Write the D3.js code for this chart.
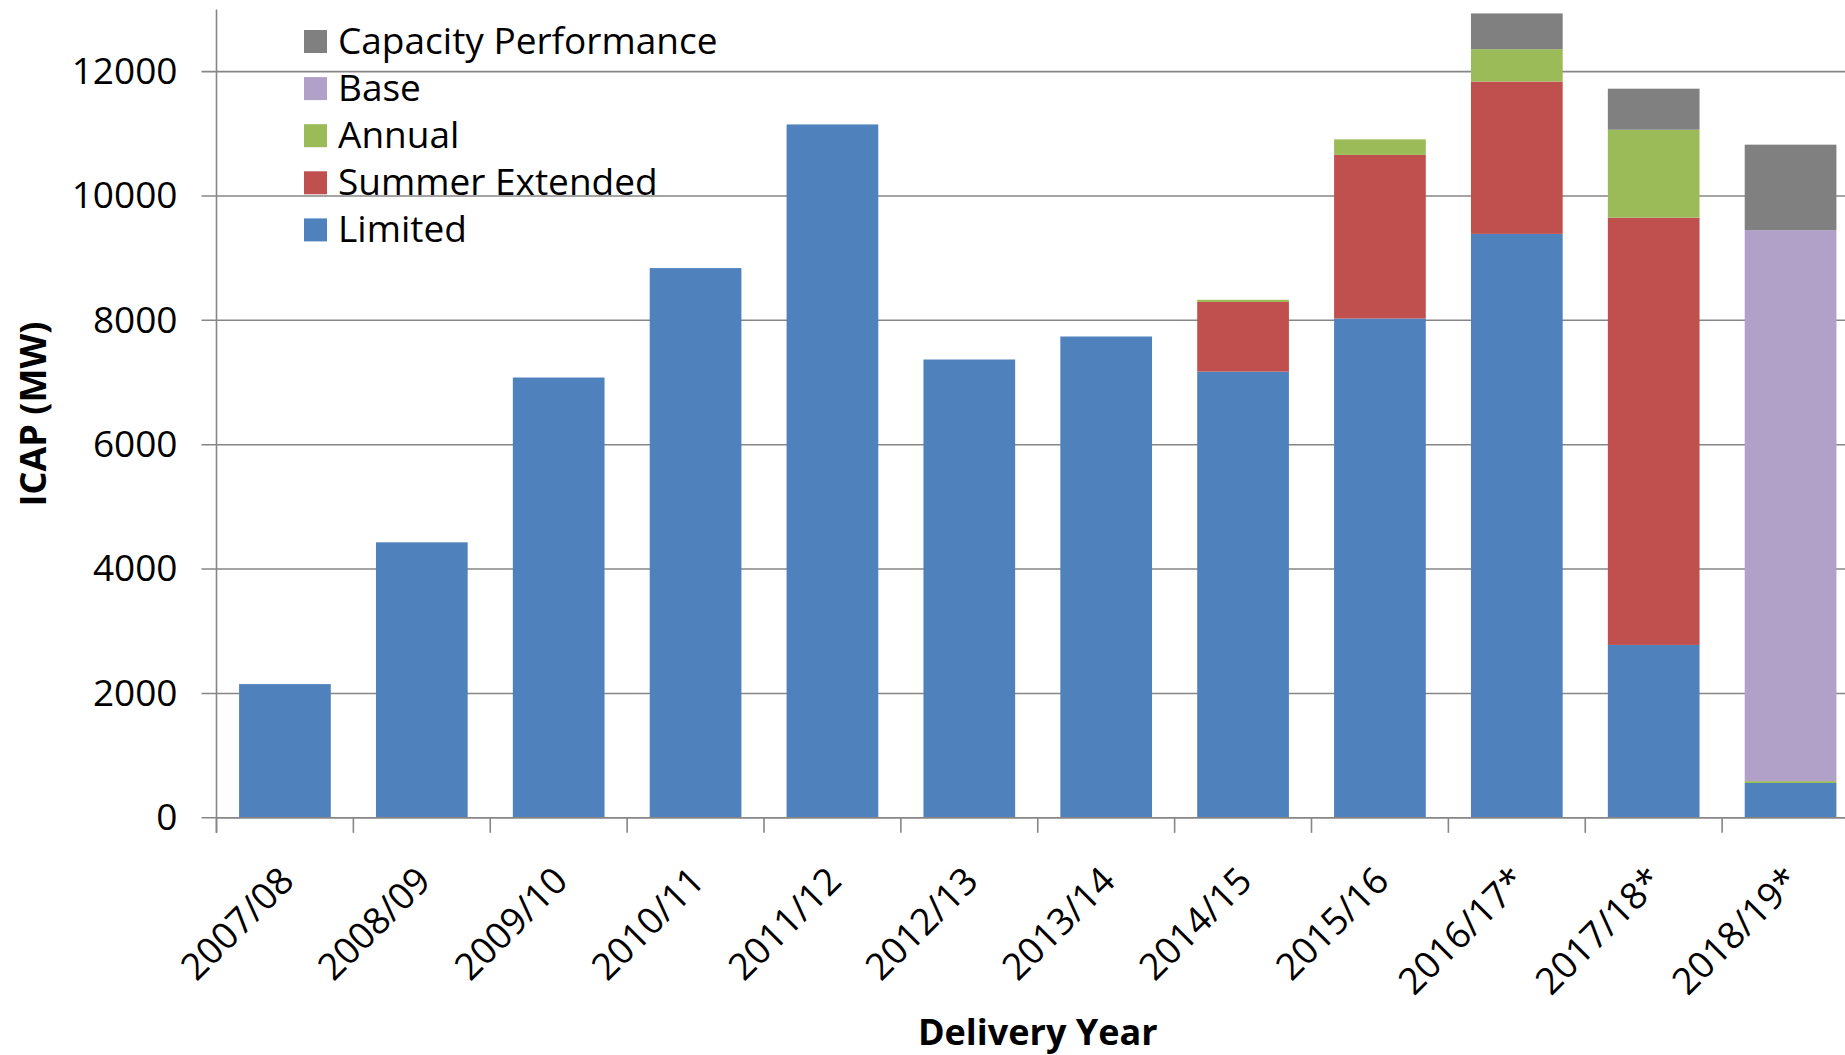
<!DOCTYPE html>
<html>
<head>
<meta charset="utf-8">
<script src="https://cdn.jsdelivr.net/npm/d3@7"></script>
<style>
  body { margin: 0; background: #fff; }
  svg { display: block; font-family: "Open Sans", sans-serif; }
</style>
</head>
<body>
<svg id="chart" width="1845" height="1055"></svg>
<script>
// delivery years on the x axis
const years = ['2007/08', '2008/09', '2009/10', '2010/11', '2011/12', '2012/13',
    '2013/14', '2014/15', '2015/16', '2016/17*', '2017/18*', '2018/19*'];

// MW per product type
const limited = [2150, 4430, 7080, 8840, 11150, 7370, 7740, 7175, 8030, 9390, 2780, 560];
const summerExtended = [0, 0, 0, 0, 0, 0, 0, 1120, 2630, 2450, 6870, 0];
const annual = [0, 0, 0, 0, 0, 0, 0, 35, 250, 520, 1415, 30];
const base = [0, 0, 0, 0, 0, 0, 0, 0, 0, 0, 0, 8860];
const capacityPerformance = [0, 0, 0, 0, 0, 0, 0, 0, 0, 575, 660, 1375];

const yTicks = [0, 2000, 4000, 6000, 8000, 10000, 12000];

// stacking order is bottom to top
const keys = ['Limited', 'Summer Extended', 'Annual', 'Base', 'Capacity Performance'];
const colors = {
    'Limited': '#4f81bd',
    'Summer Extended': '#c0504d',
    'Annual': '#9bbb59',
    'Base': '#b1a0c7',
    'Capacity Performance': '#808080'
};

const rows = years.map((year, i) => ({
    year,
    'Limited': limited[i],
    'Summer Extended': summerExtended[i],
    'Annual': annual[i],
    'Base': base[i],
    'Capacity Performance': capacityPerformance[i]
}));

const svg = d3.select('#chart');
const plotLeft = 216.5, plotRight = 1859, plotTop = 9.4, plotBottom = 817.8;
const gridColor = '#868686';

const x = d3.scaleBand()
    .domain(years)
    .range([plotLeft, plotRight])
    .paddingInner(0.33)
    .paddingOuter(0.165);

const y = d3.scaleLinear()
    .domain([0, 13000])
    .range([plotBottom, plotTop]);

// horizontal gridlines, with the small tick stub left of the axis
svg.append('g')
    .selectAll('line')
    .data(yTicks)
    .join('line')
    .attr('x1', plotLeft - 15)
    .attr('x2', 1845)
    .attr('y1', d => y(d))
    .attr('y2', d => y(d))
    .attr('stroke', gridColor)
    .attr('stroke-width', 1.6);

const stacked = d3.stack().keys(keys)(rows);

svg.append('g')
    .selectAll('g')
    .data(stacked)
    .join('g')
    .attr('fill', d => colors[d.key])
    .selectAll('rect')
    .data(d => d.filter(s => s[1] - s[0] > 0))
    .join('rect')
    .attr('x', d => x(d.data.year))
    .attr('width', x.bandwidth())
    .attr('y', d => y(d[1]))
    .attr('height', d => y(d[0]) - y(d[1]));

// y axis
const yAxis = svg.append('g')
    .attr('transform', `translate(${plotLeft},0)`)
    .call(d3.axisLeft(y).tickValues(yTicks).tickFormat(d3.format('d')).tickSize(15).tickPadding(24));
yAxis.select('.domain').remove();
yAxis.selectAll('.tick line').remove();
yAxis.selectAll('text')
    .attr('font-family', '"Open Sans", sans-serif')
    .attr('font-size', 37)
    .attr('fill', '#000');

svg.append('line')
    .attr('x1', plotLeft).attr('x2', plotLeft)
    .attr('y1', plotTop).attr('y2', plotBottom + 15)
    .attr('stroke', gridColor)
    .attr('stroke-width', 1.6);

// x axis line and category boundary ticks
svg.append('line')
    .attr('x1', plotLeft).attr('x2', 1845)
    .attr('y1', plotBottom).attr('y2', plotBottom)
    .attr('stroke', gridColor)
    .attr('stroke-width', 1.6);

const boundaryOffset = (x.step() - x.bandwidth()) / 2;
svg.append('g')
    .selectAll('line')
    .data(years)
    .join('line')
    .attr('x1', d => x(d) - boundaryOffset)
    .attr('x2', d => x(d) - boundaryOffset)
    .attr('y1', plotBottom)
    .attr('y2', plotBottom + 15)
    .attr('stroke', gridColor)
    .attr('stroke-width', 1.6);

// rotated category labels
svg.append('g')
    .selectAll('text')
    .data(years)
    .join('text')
    .attr('transform', d => `translate(${x(d) + x.bandwidth() / 2 + 11},883) rotate(-45)`)
    .attr('text-anchor', 'end')
    .attr('font-size', 37)
    .text(d => d);

// axis titles
svg.append('text')
    .attr('x', (plotLeft + plotRight) / 2)
    .attr('y', 1045)
    .attr('text-anchor', 'middle')
    .attr('font-size', 36)
    .attr('font-weight', 'bold')
    .text('Delivery Year');

svg.append('text')
    .attr('transform', 'translate(46,414) rotate(-90)')
    .attr('text-anchor', 'middle')
    .attr('font-size', 36)
    .attr('font-weight', 'bold')
    .text('ICAP (MW)');

// legend, listed top to bottom in reverse stack order
const legendKeys = keys.slice().reverse();
const legend = svg.append('g')
    .selectAll('g')
    .data(legendKeys)
    .join('g')
    .attr('transform', (d, i) => `translate(304,${30 + i * 47.1})`);

legend.append('rect')
    .attr('width', 23)
    .attr('height', 23)
    .attr('fill', d => colors[d]);

legend.append('text')
    .attr('x', 34)
    .attr('y', 24)
    .attr('font-size', 37)
    .text(d => d);
</script>
</body>
</html>
